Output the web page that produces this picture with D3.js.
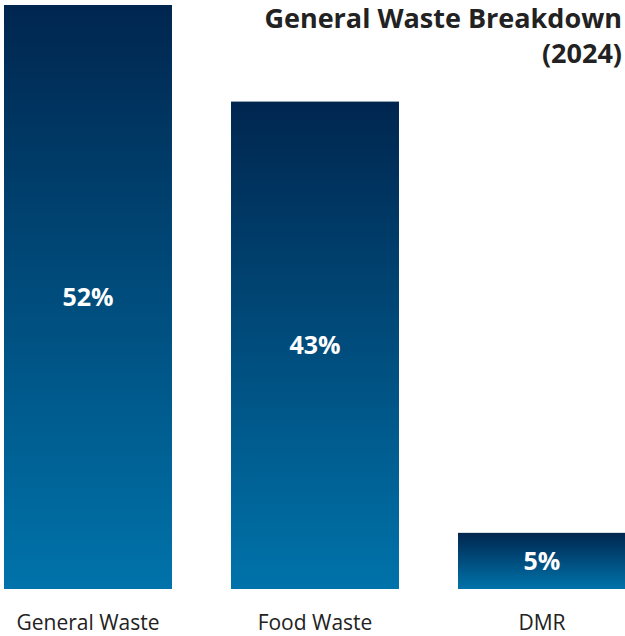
<!DOCTYPE html>
<html>
<head>
<meta charset="utf-8">
<script src="https://cdn.jsdelivr.net/npm/d3@7"></script>
<style>
  html, body { margin: 0; padding: 0; background: #fff; }
  svg { display: block; }
</style>
</head>
<body>
<svg id="chart" width="625" height="636"></svg>
<script>
const categories = ["General Waste", "Food Waste", "DMR"];
const values = [52, 43.4, 5];
const titleLines = ["General Waste Breakdown", "(2024)"];

const W = 625, H = 636;
const svg = d3.select("#chart");
const FONT = "'Open Sans', Roboto, sans-serif";

const defs = svg.append("defs");
const grad = defs.append("linearGradient")
  .attr("id", "barGrad").attr("x1", 0).attr("y1", 0).attr("x2", 0).attr("y2", 1);
grad.append("stop").attr("offset", "0%").attr("stop-color", "#00264f");
grad.append("stop").attr("offset", "100%").attr("stop-color", "#0073aa");

const x = d3.scaleBand().domain(categories).range([4, 626]).paddingInner(0.26).paddingOuter(0);
const y = d3.scaleLinear().domain([0, 52]).range([589, 5]);

const data = categories.map((c, i) => ({ c, v: values[i] }));

svg.selectAll("rect.bar").data(data).join("rect")
  .attr("class", "bar")
  .attr("x", d => x(d.c))
  .attr("y", d => y(d.v))
  .attr("width", x.bandwidth())
  .attr("height", d => y(0) - y(d.v))
  .attr("fill", "url(#barGrad)");

svg.selectAll("text.val").data(data).join("text")
  .attr("class", "val")
  .attr("x", d => x(d.c) + x.bandwidth() / 2)
  .attr("y", d => (y(d.v) + y(0)) / 2)
  .attr("dy", "0.35em")
  .attr("text-anchor", "middle")
  .attr("fill", "#fff")
  .style("font-family", FONT)
  .style("font-weight", "700")
  .style("font-size", "25px")
  .text(d => d3.format(".0f")(d.v) + "%");

const xAxis = d3.axisBottom(x).tickSize(0).tickPadding(0);
const gx = svg.append("g").attr("transform", `translate(0,${y(0)})`).call(xAxis);
gx.select(".domain").remove();
gx.selectAll("text")
  .attr("y", 41)
  .attr("dy", 0)
  .attr("fill", "#222")
  .style("font-family", FONT)
  .style("font-size", "21px");

svg.append("text")
  .attr("x", 622)
  .attr("text-anchor", "end")
  .attr("fill", "#222")
  .style("font-family", FONT)
  .style("font-weight", "700")
  .style("font-size", "27px")
  .selectAll("tspan").data(titleLines).join("tspan")
  .attr("x", 622)
  .attr("y", (d, i) => 28 + i * 35)
  .text(d => d);
</script>
</body>
</html>
